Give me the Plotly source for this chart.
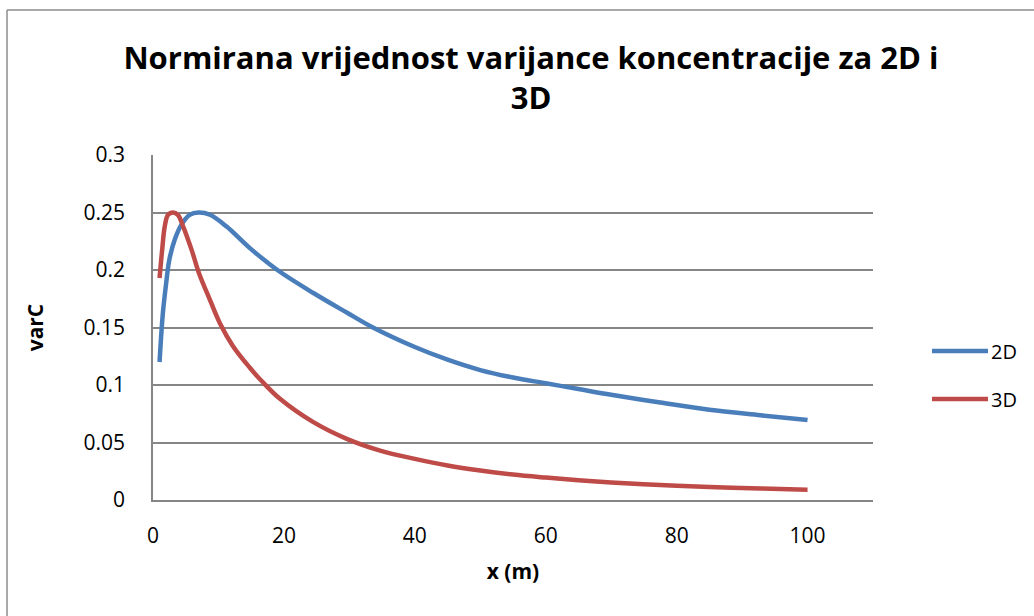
import plotly.graph_objects as go

# Data
x_2d = [1, 1.5, 2, 2.5, 3.3, 4.3, 5.6, 7, 8.7, 11.2, 14.8, 19, 24.5, 29.6, 33.6,
        40, 45, 50, 55, 60, 65, 70, 77.5, 85, 92.8, 100]
y_2d = [0.120, 0.162, 0.188, 0.209, 0.226, 0.239, 0.248, 0.250, 0.248, 0.238,
        0.219, 0.200, 0.180, 0.163, 0.150, 0.133, 0.122, 0.113, 0.1065, 0.1015,
        0.0965, 0.0915, 0.0848, 0.0785, 0.0737, 0.0695]

x_3d = [1, 1.4, 1.8, 2.3, 3.06, 3.8, 4.6, 5.9, 7.1, 8.7, 10.2, 12.2, 14.8, 16.6,
        19.4, 24.5, 29.6, 34.7, 40, 45, 50, 55, 60, 65, 70, 77.5, 85, 92.8, 100]
y_3d = [0.193, 0.2175, 0.238, 0.248, 0.250, 0.248, 0.238, 0.2175, 0.196, 0.174,
        0.154, 0.134, 0.115, 0.1035, 0.088, 0.0677, 0.0532, 0.043, 0.0358,
        0.030, 0.0256, 0.0221, 0.0195, 0.0172, 0.0153, 0.0130, 0.0113, 0.0100, 0.0090]

series_names = ["2D", "3D"]
colors = ["#4A7EBB", "#BE4B48"]

x_ticks = [0, 20, 40, 60, 80, 100]
y_ticks = [0, 0.05, 0.1, 0.15, 0.2, 0.25, 0.3]
y_tick_text = ["0", "0.05", "0.1", "0.15", "0.2", "0.25", "0.3"]

FONT = "Open Sans"
fig = go.Figure()
for xs, ys, name, c in zip([x_2d, x_3d], [y_2d, y_3d], series_names, colors):
    fig.add_trace(go.Scatter(x=xs, y=ys, mode="lines", name=name,
                             line=dict(color=c, width=4.5, shape="spline", smoothing=1.0),
                             showlegend=False))

W, H = 1034, 616
L, R, T, B = 153, 161, 155, 116
pw, ph = W - L - R, H - T - B

def px_to_paper_x(px):
    return (px - L) / pw

def px_to_paper_y(py):
    return (H - B - py) / ph

shapes = []
annotations = []
# manual legend
for i, (name, c) in enumerate(zip(series_names, colors)):
    py = 351 + 48 * i
    shapes.append(dict(type="line", xref="paper", yref="paper",
                       x0=px_to_paper_x(932), x1=px_to_paper_x(988),
                       y0=px_to_paper_y(py), y1=px_to_paper_y(py),
                       line=dict(color=c, width=4.5)))
    annotations.append(dict(text=name, xref="paper", yref="paper",
                            x=px_to_paper_x(989), y=px_to_paper_y(py),
                            xanchor="left", yanchor="middle", showarrow=False,
                            font=dict(family=FONT, size=20, color="black")))
# outer chart border (left and top)
shapes.append(dict(type="line", xref="paper", yref="paper",
                   x0=px_to_paper_x(7), x1=px_to_paper_x(7),
                   y0=px_to_paper_y(10), y1=px_to_paper_y(616),
                   line=dict(color="#8C8C8C", width=1.5)))
shapes.append(dict(type="line", xref="paper", yref="paper",
                   x0=px_to_paper_x(7), x1=px_to_paper_x(1034),
                   y0=px_to_paper_y(10), y1=px_to_paper_y(10),
                   line=dict(color="#8C8C8C", width=1.5)))

fig.update_layout(
    width=W, height=H,
    margin=dict(l=L, r=R, t=T, b=B),
    paper_bgcolor="white", plot_bgcolor="white",
    title=dict(text="Normirana vrijednost varijance koncentracije za 2D i<br>3D",
               x=531 / W, xanchor="center", y=1 - 69 / H, yanchor="top",
               font=dict(family=FONT, size=31, color="black", weight="bold")),
    xaxis=dict(range=[0, 110], tickvals=x_ticks, showgrid=False,
               showline=True, linecolor="#868686", linewidth=1.5,
               ticks="", tickfont=dict(family=FONT, size=21, color="black"),
               ticklabelstandoff=16,
               title=dict(text="<b>x (m)</b>", standoff=16,
                          font=dict(family=FONT, size=21, color="black")),
               zeroline=False),
    yaxis=dict(range=[0, 0.3], tickvals=y_ticks, ticktext=y_tick_text,
               showgrid=True, gridcolor="#868686", gridwidth=1.5,
               showline=True, linecolor="#868686", linewidth=1.5,
               ticks="", tickfont=dict(family=FONT, size=21, color="black"),
               ticklabelstandoff=22,
               title=dict(text="<b>varC</b>", standoff=34,
                          font=dict(family=FONT, size=21, color="black")),
               zeroline=False),
    shapes=shapes, annotations=annotations,
)

fig.write_html("out.html", config={"displayModeBar": False},
               post_script="document.body.style.margin='0';")
